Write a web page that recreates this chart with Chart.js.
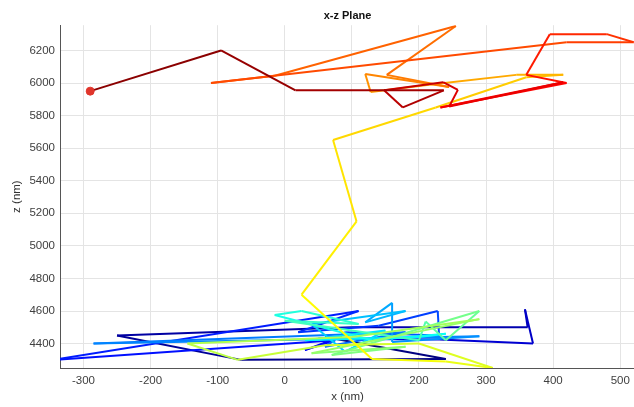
<!DOCTYPE html>
<html>
<head>
<meta charset="utf-8">
<script src="https://cdn.jsdelivr.net/npm/chart.js@4"></script>
<style>
  html, body { margin: 0; padding: 0; background: #fff; width: 634px; height: 407px; overflow: hidden; }
  #wrap { width: 640px; height: 407px; }
</style>
</head>
<body>
<div id="wrap"><canvas id="xzChart"></canvas></div>
<script>
// trajectory in the x-z plane, in time order (nm)
const xVals = [
  60, 240, -65, -250, 100, 362, 358, 370, 230,
  50, 85, 30, 75, -345, 110, 20, 140, 228, 230, 90, 60, 180,
  -285, 290, 160, 160, 120, 180, 40, 90, 150, 30, 200, 240, 130,
  -15, 25, 110, 0, 200, 210, 240, 290, 70,
  180, 40, 290, 100, -145, -70, 60, 200,
  310, 240, 130,
  25, 107, 72, 225, 360, 415, 345, 215, 128, 120, 245, 152, 255, -15, -110,
  420, 520, 480, 395, 360, 420, 232, 415, 245, 258, 236, 148, 176, 237, 16, -95, -290
];
const zVals = [
  4440, 4305, 4300, 4450, 4500, 4500, 4610, 4400, 4425,
  4430, 4445, 4360, 4420, 4300, 4600, 4470, 4510, 4600, 4450, 4470, 4380, 4470,
  4400, 4445, 4410, 4650, 4530, 4600, 4520, 4350, 4480, 4420, 4440, 4460, 4420,
  4575, 4600, 4520, 4540, 4420, 4535, 4420, 4600, 4330,
  4380, 4340, 4550, 4440, 4400, 4300, 4390, 4400,
  4250, 4290, 4305,
  4700, 5150, 5650, 5850, 6035, 6050, 6050, 5990, 5945, 6055, 5975, 6050, 6350, 6045, 6000,
  6250, 6250, 6300, 6300, 6050, 6000, 5850, 6005, 5855, 5958, 6005, 5955, 5850, 5955, 5955, 6200, 5950
];
const xTicks = [-300, -200, -100, 0, 100, 200, 300, 400, 500];
const zTicks = [4400, 4600, 4800, 5000, 5200, 5400, 5600, 5800, 6000, 6200];

const n = xVals.length;
const path = xVals.map((x, i) => ({ x: x, y: zVals[i] }));

// matlab jet colormap
function jet(t) {
  const c = v => Math.round(255 * Math.max(0, Math.min(1, v)));
  const r = c(1.5 - Math.abs(4 * t - 3));
  const g = c(1.5 - Math.abs(4 * t - 2));
  const b = c(1.5 - Math.abs(4 * t - 1));
  return `rgb(${r},${g},${b})`;
}

const font = { family: "'Liberation Sans', Arial, sans-serif", size: 11.5 };

new Chart(document.getElementById("xzChart"), {
  type: "scatter",
  data: {
    datasets: [{
      data: [path[n - 1]],
      pointRadius: 4,
      pointBackgroundColor: "#e0352b",
      pointBorderColor: "#e0352b",
      order: 0
    }, {
      data: path,
      showLine: true,
      pointRadius: 0,
      borderWidth: 2,
      borderColor: jet(0),
      segment: {
        borderColor: ctx => jet(ctx.p0DataIndex / (n - 1))
      },
      order: 1
    }]
  },
  options: {
    responsive: true,
    maintainAspectRatio: false,
    animation: false,
    layout: { padding: 0 },
    plugins: {
      legend: { display: false },
      tooltip: { enabled: false },
      title: {
        display: true,
        fullSize: false,
        text: "x-z Plane",
        color: "#111",
        font: { family: font.family, size: 11, weight: "bold" },
        padding: { top: 9, bottom: 3 }
      }
    },
    scales: {
      x: {
        type: "linear",
        min: -335,
        max: 522,
        afterBuildTicks: axis => { axis.ticks = xTicks.map(v => ({ value: v })); },
        afterFit: axis => { axis.height = 39; },
        grid: { color: "#e4e4e4", drawTicks: false },
        border: { color: "#555", width: 1 },
        ticks: { color: "#404040", font: font, padding: 6, maxRotation: 0, callback: v => String(v) },
        title: { display: true, text: "x (nm)", color: "#333", font: font, padding: { top: 0, bottom: 3 } }
      },
      y: {
        type: "linear",
        min: 4250,
        max: 6355,
        afterBuildTicks: axis => { axis.ticks = zTicks.map(v => ({ value: v })); },
        afterFit: axis => { axis.width = 60; },
        grid: { color: "#e4e4e4", drawTicks: false },
        border: { color: "#555", width: 1 },
        ticks: { color: "#404040", font: font, padding: 5, callback: v => String(v) },
        title: { display: true, text: "z (nm)", color: "#333", font: font, padding: { top: 10, bottom: 0 } }
      }
    }
  }
});
</script>
</body>
</html>
